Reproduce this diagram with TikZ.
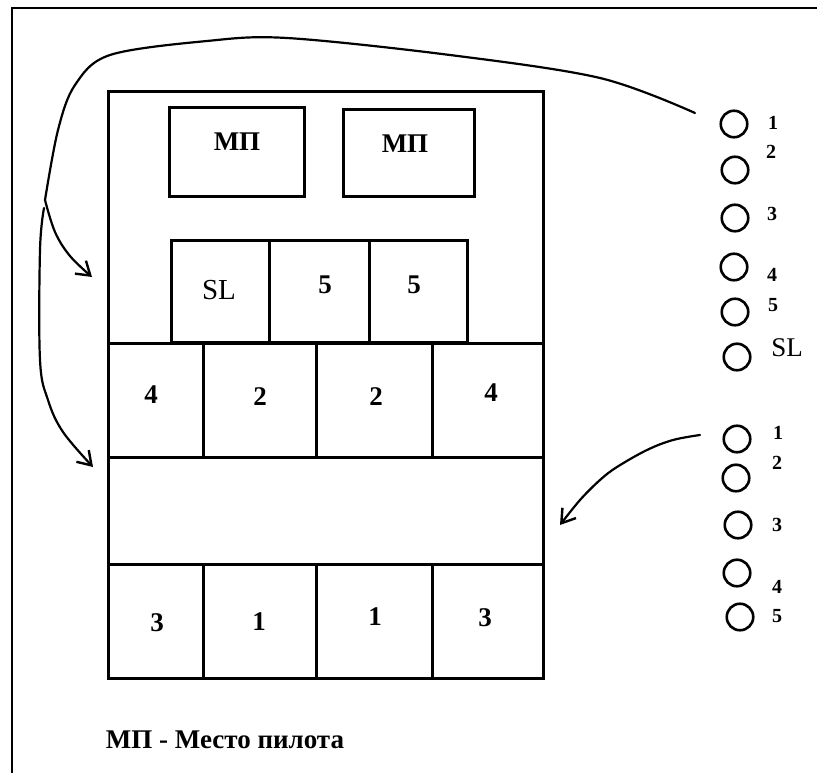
\documentclass[tikz,border=0pt]{standalone}
\usepackage{fontspec}
\setmainfont{Liberation Serif}
\usetikzlibrary{arrows.meta}
\begin{document}
\begin{tikzpicture}[x=1pt,y=-1pt,
  cellbox/.style={draw,line width=3pt,inner sep=0pt,outer sep=0pt},
  lab/.style={inner sep=0pt,font=\fontsize{27}{29}\selectfont\bfseries},
  slab/.style={inner sep=0pt,font=\fontsize{29}{31}\selectfont},
  circ/.style={draw,circle,line width=2.6pt,minimum size=26.5pt,inner sep=0pt},
  clab/.style={inner sep=0pt,font=\fontsize{20}{22}\selectfont\bfseries},
  cslab/.style={inner sep=0pt,font=\fontsize{27}{29}\selectfont},
  hand/.style={line width=2.2pt,line cap=round,line join=round},
  tip/.style={-{Straight Barb[length=13pt,width=17pt,line width=2.4pt]}}]
\useasboundingbox (0,0) rectangle (817,773);
\fill[white] (0,0) rectangle (817,773);
% frame
\draw[line width=2pt] (12,773) -- (12,8) -- (817,8);
% outer hall
\node[cellbox,minimum width=435pt,minimum height=587pt] (hall) at (325.5,385) {};
% pilot seats
\node[cellbox,minimum width=135pt,minimum height=89pt] (mp1) at (236.5,152.5) {};
\node[cellbox,minimum width=131pt,minimum height=87pt] (mp2) at (408.5,153.5) {};
\node[lab] (mp1t) at (237,142) {МП};
\node[lab] (mp2t) at (405,144) {МП};
% SL 5 5 row
\node[cellbox,minimum width=98pt,minimum height=102pt] (sl) at (220,291) {};
\node[cellbox,minimum width=100pt,minimum height=102pt] (f1) at (319,291) {};
\node[cellbox,minimum width=98pt,minimum height=102pt] (f2) at (418,291) {};
\node[slab] (slt) at (219,290) {SL};
\node[lab] (f1t) at (325,285) {5};
\node[lab] (f2t) at (414,285) {5};
% row 4 2 2 4
\node[cellbox,minimum width=95pt,minimum height=114pt] (r2a) at (155.5,400) {};
\node[cellbox,minimum width=113pt,minimum height=114pt] (r2b) at (259.5,400) {};
\node[cellbox,minimum width=116pt,minimum height=114pt] (r2c) at (374,400) {};
\node[cellbox,minimum width=111pt,minimum height=114pt] (r2d) at (487.5,400) {};
\node[lab] (r2at) at (151,395) {4};
\node[lab] (r2bt) at (260,397) {2};
\node[lab] (r2ct) at (376,397) {2};
\node[lab] (r2dt) at (491,393) {4};
% row 3 1 1 3
\node[cellbox,minimum width=95pt,minimum height=114pt] (r4a) at (155.5,621) {};
\node[cellbox,minimum width=113pt,minimum height=114pt] (r4b) at (259.5,621) {};
\node[cellbox,minimum width=116pt,minimum height=114pt] (r4c) at (374,621) {};
\node[cellbox,minimum width=111pt,minimum height=114pt] (r4d) at (487.5,621) {};
\node[lab] (r4at) at (157,623) {3};
\node[lab] (r4bt) at (259,622) {1};
\node[lab] (r4ct) at (375,617) {1};
\node[lab] (r4dt) at (485,618) {3};
% legend
\node[inner sep=0pt,font=\fontsize{27}{29}\selectfont\bfseries] (legend) at (225,740) {МП - Место пилота};
% right column, group 1
\node[circ] (a1) at (734,124) {};
\node[circ] (a2) at (735,170) {};
\node[circ] (a3) at (735,218) {};
\node[circ] (a4) at (734,267) {};
\node[circ] (a5) at (735,312) {};
\node[circ] (a6) at (737,357) {};
\node[clab] (a1t) at (773,123) {1};
\node[clab] (a2t) at (771,152) {2};
\node[clab] (a3t) at (772,214) {3};
\node[clab] (a4t) at (772,275) {4};
\node[clab] (a5t) at (773,305) {5};
\node[cslab] (a6t) at (787,348) {SL};
% right column, group 2
\node[circ] (b1) at (737,439) {};
\node[circ] (b2) at (736,478) {};
\node[circ] (b3) at (738,525) {};
\node[circ] (b4) at (737,573) {};
\node[circ] (b5) at (740,617) {};
\node[clab] (b1t) at (778,433) {1};
\node[clab] (b2t) at (777,463) {2};
\node[clab] (b3t) at (777,525) {3};
\node[clab] (b4t) at (777,587) {4};
\node[clab] (b5t) at (777,616) {5};
% arrows
\coordinate (s1) at (695,113);
\coordinate (j) at (45,200);
\coordinate (e1) at (92,277);
\coordinate (e2) at (93,467);
\coordinate (s2) at (700,435);
\coordinate (e3) at (560,525);
\draw[hand] plot[smooth,tension=0.55] coordinates {(s1) (600,78) (450,55) (287,38) (207,41) (110,55) (75,85) (58,130) (j)};
\draw[hand,tip] plot[smooth,tension=0.6] coordinates {(j) (55,232) (70,256) (e1)};
\draw[hand,tip] plot[smooth,tension=0.6] coordinates {(44,208) (40,250) (40,360) (48,400) (63,432) (e2)};
\draw[hand,tip] plot[smooth,tension=0.6] coordinates {(s2) (673,440) (647,450) (617,467) (600,480) (580,500) (e3)};
\end{tikzpicture}
\end{document}
